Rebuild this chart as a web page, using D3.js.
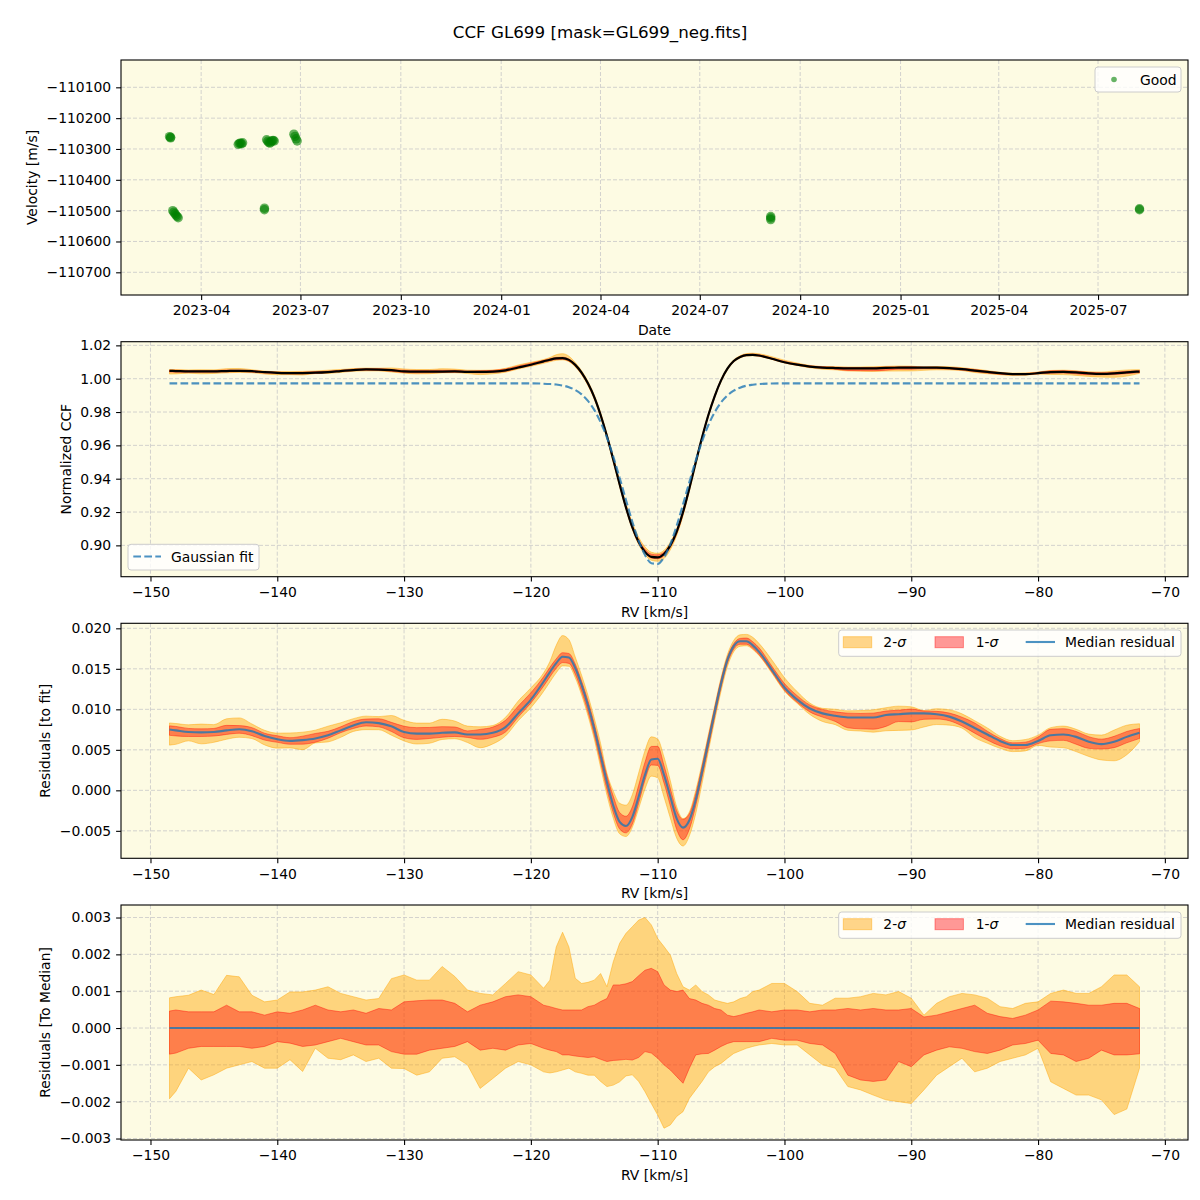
<!DOCTYPE html>
<html>
<head>
<meta charset="utf-8">
<script src="https://cdn.jsdelivr.net/npm/d3@7"></script>
<style>
  body { margin: 0; background: #fff; }
  svg { font-family: "DejaVu Sans", sans-serif; }
</style>
</head>
<body>
<svg id="chart" width="1200" height="1200"></svg>
<script>
// --- panel 1: velocity per observation ---
const obsDates = [
  "2023-03-03", "2023-03-04", "2023-03-04",
  "2023-03-06", "2023-03-07", "2023-03-08", "2023-03-09", "2023-03-10", "2023-03-11",
  "2023-05-05", "2023-05-06", "2023-05-07", "2023-05-08", "2023-05-09",
  "2023-05-29", "2023-05-29",
  "2023-05-31", "2023-06-01", "2023-06-02", "2023-06-03", "2023-06-04", "2023-06-05", "2023-06-06", "2023-06-07",
  "2023-06-25", "2023-06-26", "2023-06-27", "2023-06-28",
  "2024-09-04", "2024-09-04", "2024-09-04",
  "2025-08-08", "2025-08-08"
];
const obsVel = [
  -110260, -110264, -110262,
  -110500, -110505, -110510, -110515, -110519, -110523,
  -110285, -110282, -110281, -110283, -110280,
  -110492, -110497,
  -110270, -110275, -110279, -110281, -110277, -110273, -110272, -110274,
  -110252, -110259, -110267, -110274,
  -110519, -110524, -110529,
  -110494, -110497
];

// --- panels 2-4: CCF on an RV grid ---
const rv = [-148.5, -148, -147, -146, -145, -144, -143, -142, -141, -140,
  -139, -138, -137, -136, -135, -134, -133, -132, -131, -130,
  -129, -128, -127, -126, -125, -124, -123, -122, -121, -120,
  -119, -118.5, -118, -117.5, -117, -116.5, -116, -115.5, -115, -114.5,
  -114, -113.5, -113, -112.5, -112, -111.5, -111, -110.5, -110, -109.5,
  -109, -108.5, -108, -107.5, -107, -106.5, -106, -105.5, -105, -104.5,
  -104, -103.5, -103, -102.5, -102, -101, -100, -99, -98, -97,
  -96, -95, -94, -93, -92, -91, -90, -89, -88, -87,
  -86, -85, -84, -83, -82, -81, -80, -79, -78, -77,
  -76, -75, -74, -73, -72];

const gaussFit = [0.9972, 0.9972, 0.9972, 0.9972, 0.9972, 0.9972, 0.9972, 0.9972, 0.9972, 0.9972,
  0.9972, 0.9972, 0.9972, 0.9972, 0.9972, 0.9972, 0.9972, 0.9972, 0.9972, 0.9972,
  0.9972, 0.9972, 0.9972, 0.9972, 0.9972, 0.9972, 0.9972, 0.9972, 0.9972, 0.9972,
  0.9970, 0.9968, 0.9965, 0.9959, 0.9949, 0.9932, 0.9906, 0.9867, 0.9813, 0.9739,
  0.9646, 0.9533, 0.9406, 0.9272, 0.9142, 0.9028, 0.8942, 0.8893, 0.8889, 0.8929,
  0.9008, 0.9118, 0.9246, 0.9380, 0.9509, 0.9624, 0.9722, 0.9799, 0.9858, 0.9899,
  0.9928, 0.9946, 0.9958, 0.9964, 0.9968, 0.9971, 0.9972, 0.9972, 0.9972, 0.9972,
  0.9972, 0.9972, 0.9972, 0.9972, 0.9972, 0.9972, 0.9972, 0.9972, 0.9972, 0.9972,
  0.9972, 0.9972, 0.9972, 0.9972, 0.9972, 0.9972, 0.9972, 0.9972, 0.9972, 0.9972,
  0.9972, 0.9972, 0.9972, 0.9972, 0.9972];

// median residual to the gaussian fit
const resMedian = [0.0075, 0.0074, 0.0072, 0.00715, 0.0072, 0.0074, 0.00755, 0.0073, 0.0067, 0.0063,
  0.0061, 0.0062, 0.0064, 0.0068, 0.0074, 0.0080, 0.0084, 0.0083, 0.0079, 0.0072,
  0.0070, 0.0070, 0.0071, 0.00715, 0.0069, 0.0069, 0.0071, 0.0078, 0.0095, 0.0112,
  0.0134, 0.0146, 0.0157, 0.0165, 0.0164, 0.0151, 0.0130, 0.0105, 0.0076, 0.0043,
  0.0010, -0.0019, -0.0039, -0.0044, -0.0033, -0.0008, 0.0019, 0.0038, 0.0039, 0.0019,
  -0.0008, -0.0035, -0.0046, -0.0037, -0.0012, 0.0023, 0.0060, 0.0097, 0.0132, 0.0161,
  0.0178, 0.0184, 0.0184, 0.0179, 0.0171, 0.0149, 0.0127, 0.0112, 0.0101, 0.0095,
  0.0092, 0.0090, 0.0090, 0.0090, 0.0093, 0.0094, 0.0095, 0.0095, 0.0094, 0.0091,
  0.0085, 0.0077, 0.0069, 0.0061, 0.0056, 0.0056, 0.0061, 0.0068, 0.0069, 0.0066,
  0.0060, 0.0057, 0.0060, 0.0066, 0.0071];

// band edges relative to the median
const sigma2Hi = [0.00082, 0.00085, 0.00089, 0.00103, 0.00091, 0.00143, 0.00139, 0.00089, 0.00071, 0.00076,
  0.00098, 0.00098, 0.00103, 0.00112, 0.00094, 0.00085, 0.00076, 0.00080, 0.00134, 0.00144,
  0.00130, 0.00130, 0.00167, 0.00140, 0.00103, 0.00094, 0.00090, 0.00121, 0.00153, 0.00144,
  0.00108, 0.00130, 0.00220, 0.00260, 0.00220, 0.00135, 0.00121, 0.00124, 0.00130, 0.00148,
  0.00112, 0.00180, 0.00230, 0.00257, 0.00275, 0.00293, 0.00300, 0.00280, 0.00243, 0.00221,
  0.00198, 0.00148, 0.00112, 0.00103, 0.00117, 0.00099, 0.00090, 0.00076, 0.00071, 0.00067,
  0.00071, 0.00080, 0.00085, 0.00099, 0.00103, 0.00121, 0.00121, 0.00099, 0.00067, 0.00062,
  0.00081, 0.00081, 0.00085, 0.00094, 0.00090, 0.00099, 0.00081, 0.00035, 0.00067, 0.00085,
  0.00094, 0.00090, 0.00081, 0.00058, 0.00053, 0.00067, 0.00071, 0.00094, 0.00103, 0.00094,
  0.00094, 0.00112, 0.00144, 0.00144, 0.00112];
const sigma1Hi = [0.00046, 0.00049, 0.00044, 0.00044, 0.00044, 0.00062, 0.00044, 0.00044, 0.00035, 0.00044,
  0.00040, 0.00049, 0.00062, 0.00049, 0.00044, 0.00049, 0.00040, 0.00053, 0.00049, 0.00071,
  0.00074, 0.00076, 0.00076, 0.00067, 0.00044, 0.00062, 0.00071, 0.00085, 0.00090, 0.00085,
  0.00062, 0.00058, 0.00053, 0.00049, 0.00049, 0.00049, 0.00049, 0.00058, 0.00062, 0.00072,
  0.00080, 0.00117, 0.00117, 0.00120, 0.00126, 0.00142, 0.00157, 0.00162, 0.00153, 0.00117,
  0.00103, 0.00099, 0.00103, 0.00080, 0.00076, 0.00067, 0.00062, 0.00053, 0.00049, 0.00035,
  0.00031, 0.00035, 0.00040, 0.00044, 0.00049, 0.00044, 0.00049, 0.00049, 0.00044, 0.00049,
  0.00049, 0.00053, 0.00049, 0.00053, 0.00049, 0.00049, 0.00053, 0.00030, 0.00035, 0.00044,
  0.00053, 0.00062, 0.00040, 0.00031, 0.00026, 0.00035, 0.00049, 0.00073, 0.00071, 0.00067,
  0.00062, 0.00062, 0.00067, 0.00067, 0.00053];
const sigma1Lo = [-0.00071, -0.00068, -0.00055, -0.00050, -0.00050, -0.00050, -0.00050, -0.00055, -0.00050, -0.00037,
  -0.00041, -0.00050, -0.00046, -0.00037, -0.00028, -0.00037, -0.00046, -0.00046, -0.00064, -0.00071,
  -0.00071, -0.00060, -0.00055, -0.00050, -0.00037, -0.00060, -0.00055, -0.00060, -0.00046, -0.00042,
  -0.00055, -0.00060, -0.00064, -0.00073, -0.00073, -0.00076, -0.00078, -0.00080, -0.00078, -0.00085,
  -0.00091, -0.00088, -0.00087, -0.00085, -0.00087, -0.00080, -0.00064, -0.00068, -0.00082, -0.00100,
  -0.00114, -0.00132, -0.00150, -0.00109, -0.00073, -0.00070, -0.00069, -0.00060, -0.00050, -0.00042,
  -0.00037, -0.00037, -0.00037, -0.00037, -0.00037, -0.00028, -0.00033, -0.00033, -0.00042, -0.00046,
  -0.00069, -0.00128, -0.00141, -0.00145, -0.00141, -0.00091, -0.00105, -0.00073, -0.00060, -0.00051,
  -0.00055, -0.00064, -0.00069, -0.00060, -0.00046, -0.00042, -0.00033, -0.00069, -0.00073, -0.00091,
  -0.00082, -0.00060, -0.00073, -0.00073, -0.00070];
const sigma2Lo = [-0.00192, -0.00172, -0.00109, -0.00141, -0.00127, -0.00109, -0.00100, -0.00091, -0.00109, -0.00109,
  -0.00086, -0.00118, -0.00055, -0.00082, -0.00086, -0.00073, -0.00091, -0.00082, -0.00109, -0.00110,
  -0.00128, -0.00119, -0.00082, -0.00078, -0.00100, -0.00164, -0.00137, -0.00109, -0.00091, -0.00100,
  -0.00119, -0.00122, -0.00119, -0.00114, -0.00109, -0.00119, -0.00123, -0.00128, -0.00128, -0.00145,
  -0.00159, -0.00155, -0.00146, -0.00130, -0.00127, -0.00145, -0.00173, -0.00205, -0.00236, -0.00272,
  -0.00263, -0.00240, -0.00227, -0.00191, -0.00168, -0.00145, -0.00119, -0.00105, -0.00096, -0.00082,
  -0.00069, -0.00062, -0.00055, -0.00050, -0.00046, -0.00042, -0.00046, -0.00046, -0.00073, -0.00100,
  -0.00109, -0.00159, -0.00168, -0.00182, -0.00195, -0.00200, -0.00205, -0.00168, -0.00128, -0.00105,
  -0.00082, -0.00119, -0.00109, -0.00091, -0.00082, -0.00073, -0.00055, -0.00146, -0.00164, -0.00182,
  -0.00182, -0.00195, -0.00235, -0.00220, -0.00109];

const dateTicks = ["2023-04-01", "2023-07-01", "2023-10-01", "2024-01-01", "2024-04-01",
  "2024-07-01", "2024-10-01", "2025-01-01", "2025-04-01", "2025-07-01"];
const velTicks = [-110700, -110600, -110500, -110400, -110300, -110200, -110100];
const rvTicks = [-150, -140, -130, -120, -110, -100, -90, -80, -70];
const ccfTicks = [0.90, 0.92, 0.94, 0.96, 0.98, 1.00, 1.02];
const resTicks = [-0.005, 0.000, 0.005, 0.010, 0.015, 0.020];
const medTicks = [-0.003, -0.002, -0.001, 0.000, 0.001, 0.002, 0.003];

[gaussFit, resMedian, sigma2Hi, sigma1Hi, sigma1Lo, sigma2Lo].forEach(a => {
  if (a.length !== rv.length) throw new Error("length mismatch " + a.length);
});

const svg = d3.select("#chart");
const L = 121, R = 1188, PH = 235;
const tops = [60, 341.7, 623.3, 905];
const FS = "13.9px";
const bgCol = "#fdfbe3";
const c0 = "#1f77b4";

svg.append("text")
  .attr("x", 600).attr("y", 38)
  .attr("text-anchor", "middle")
  .attr("font-size", "16.7px")
  .text("CCF GL699 [mask=GL699_neg.fits]");

function panel(i, x, y, xt, yt, xfmt, yfmt, xlabel, ylabel, ylabelX) {
  const top = tops[i], bot = top + PH;
  const g = svg.append("g");
  g.append("rect").attr("x", L).attr("y", top)
    .attr("width", R - L).attr("height", PH).attr("fill", bgCol);
  const grid = g.append("g")
    .attr("stroke", "#c8c8c8").attr("stroke-width", 0.8)
    .attr("stroke-dasharray", "4,2");
  grid.selectAll(".gx").data(xt).enter().append("line")
    .attr("x1", d => x(d)).attr("x2", d => x(d))
    .attr("y1", top).attr("y2", bot);
  grid.selectAll(".gy").data(yt).enter().append("line")
    .attr("x1", L).attr("x2", R)
    .attr("y1", d => y(d)).attr("y2", d => y(d));

  const plot = g.append("g");

  const ax = g.append("g").attr("transform", `translate(0,${bot})`)
    .call(d3.axisBottom(x).tickValues(xt).tickFormat(xfmt).tickSize(4.9).tickPadding(5.5));
  const ay = g.append("g").attr("transform", `translate(${L},0)`)
    .call(d3.axisLeft(y).tickValues(yt).tickFormat(yfmt).tickSize(4.9).tickPadding(4.9));
  [ax, ay].forEach(a => {
    a.select(".domain").remove();
    a.attr("font-size", FS).attr("font-family", "DejaVu Sans, sans-serif");
    a.selectAll("line").attr("stroke-width", 1.1);
  });

  g.append("text").attr("x", (L + R) / 2).attr("y", bot + 40)
    .attr("text-anchor", "middle").attr("font-size", FS).text(xlabel);
  g.append("text")
    .attr("transform", `translate(${ylabelX + 5},${(top + bot) / 2}) rotate(-90)`)
    .attr("text-anchor", "middle").attr("font-size", FS).text(ylabel);

  return { g, plot, top, bot, spine: () =>
    g.append("rect").attr("x", L).attr("y", top).attr("width", R - L).attr("height", PH)
      .attr("fill", "none").attr("stroke", "#000").attr("stroke-width", 1.1) };
}

function legendBox(g, x0, y0, w, h) {
  g.append("rect").attr("x", x0).attr("y", y0).attr("width", w).attr("height", h)
    .attr("rx", 3).attr("fill", "#fff").attr("fill-opacity", 0.8)
    .attr("stroke", "#cccccc").attr("stroke-width", 1);
}

// ---------- panel 1 ----------
const parse = d3.utcParse("%Y-%m-%d");
const times = obsDates.map(parse);
const tExt = d3.extent(times);
const tPad = (tExt[1] - tExt[0]) * 0.05;
const x1 = d3.scaleUtc()
  .domain([new Date(+tExt[0] - tPad), new Date(+tExt[1] + tPad)])
  .range([L, R]);
const y1 = d3.scaleLinear().domain([-110773.6, -110011.4]).range([tops[0] + PH, tops[0]]);
const p1 = panel(0, x1, y1, dateTicks.map(parse), velTicks,
  d3.utcFormat("%Y-%m"), d3.format("d"), "Date", "Velocity [m/s]", 32);

p1.plot.selectAll("circle").data(times).enter().append("circle")
  .attr("cx", d => x1(d))
  .attr("cy", (d, i) => y1(obsVel[i]))
  .attr("r", 4.7)
  .attr("fill", "green").attr("fill-opacity", 0.6);
p1.spine();
legendBox(p1.g, 1095, 67, 86, 25);
p1.g.append("circle").attr("cx", 1114).attr("cy", 79.5).attr("r", 2.8)
  .attr("fill", "green").attr("fill-opacity", 0.6);
p1.g.append("text").attr("x", 1140).attr("y", 84.5).attr("font-size", FS).text("Good");

// ---------- shared RV scale ----------
const rvExt = d3.extent(rv);
const rvPad = (rvExt[1] - rvExt[0]) * 0.05;
const xr = d3.scaleLinear().domain([rvExt[0] - rvPad, rvExt[1] + rvPad]).range([L, R]);
const rows = rv.map((v, i) => ({
  rv: v, fit: gaussFit[i], res: resMedian[i],
  u2: sigma2Hi[i], u1: sigma1Hi[i], l1: sigma1Lo[i], l2: sigma2Lo[i]
}));

const col2 = "orange", col1 = "red";
function bands(plot, y, base, curve) {
  const a2 = d3.area().x(d => xr(d.rv)).y0(d => y(base(d) + d.l2)).y1(d => y(base(d) + d.u2)).curve(curve);
  const a1 = d3.area().x(d => xr(d.rv)).y0(d => y(base(d) + d.l1)).y1(d => y(base(d) + d.u1)).curve(curve);
  plot.append("path").datum(rows).attr("d", a2)
    .attr("fill", col2).attr("fill-opacity", 0.45)
    .attr("stroke", col2).attr("stroke-opacity", 0.45).attr("stroke-width", 1);
  plot.append("path").datum(rows).attr("d", a1)
    .attr("fill", col1).attr("fill-opacity", 0.4)
    .attr("stroke", col1).attr("stroke-opacity", 0.4).attr("stroke-width", 1);
}

// ---------- panel 2 ----------
const y2 = d3.scaleLinear().domain([0.8812, 1.0222]).range([tops[1] + PH, tops[1]]);
const p2 = panel(1, xr, y2, rvTicks, ccfTicks, d3.format("d"), d3.format(".2f"),
  "RV [km/s]", "Normalized CCF", 66);
bands(p2.plot, y2, d => d.fit + d.res, d3.curveMonotoneX);
p2.plot.append("path").datum(rows)
  .attr("d", d3.line().x(d => xr(d.rv)).y(d => y2(d.fit + d.res)).curve(d3.curveMonotoneX))
  .attr("fill", "none").attr("stroke", "#000").attr("stroke-width", 2.2);
p2.plot.append("path").datum(rows)
  .attr("d", d3.line().x(d => xr(d.rv)).y(d => y2(d.fit)).curve(d3.curveMonotoneX))
  .attr("fill", "none").attr("stroke", c0).attr("stroke-opacity", 0.8)
  .attr("stroke-width", 2.1).attr("stroke-dasharray", "7.7,3.3");
p2.spine();
legendBox(p2.g, 128, 544.3, 131, 25.7);
p2.g.append("line").attr("x1", 133.3).attr("x2", 161).attr("y1", 556.5).attr("y2", 556.5)
  .attr("stroke", c0).attr("stroke-opacity", 0.8).attr("stroke-width", 2.1)
  .attr("stroke-dasharray", "7.7,3.3");
p2.g.append("text").attr("x", 171).attr("y", 561.5).attr("font-size", FS).text("Gaussian fit");

// ---------- residual legends ----------
function residualLegend(g, y0) {
  legendBox(g, 838.7, y0, 342.3, 26.3);
  const items = [
    { x: 843.3, tx: 883.3, kind: "patch", c: col2, op: 0.45, pre: "2-" },
    { x: 935, tx: 975.7, kind: "patch", c: col1, op: 0.4, pre: "1-" },
    { x: 1025.7, tx: 1065, kind: "line" }
  ];
  items.forEach(it => {
    if (it.kind === "patch") {
      g.append("rect").attr("x", it.x).attr("y", y0 + 6.7).attr("width", 28.4).attr("height", 11)
        .attr("fill", it.c).attr("fill-opacity", it.op)
        .attr("stroke", it.c).attr("stroke-opacity", it.op);
      const t = g.append("text").attr("x", it.tx).attr("y", y0 + 16.7).attr("font-size", FS);
      t.append("tspan").text(it.pre);
      t.append("tspan").attr("font-style", "italic").text("σ");
    } else {
      g.append("line").attr("x1", it.x).attr("x2", it.x + 29.3)
        .attr("y1", y0 + 12).attr("y2", y0 + 12)
        .attr("stroke", c0).attr("stroke-opacity", 0.8).attr("stroke-width", 2.1);
      g.append("text").attr("x", it.tx).attr("y", y0 + 16.7).attr("font-size", FS).text("Median residual");
    }
  });
}

// ---------- panel 3 ----------
const y3 = d3.scaleLinear().domain([-0.00839, 0.02062]).range([tops[2] + PH, tops[2]]);
const p3 = panel(2, xr, y3, rvTicks, resTicks, d3.format("d"), d3.format(".3f"),
  "RV [km/s]", "Residuals [to fit]", 45);
bands(p3.plot, y3, d => d.res, d3.curveMonotoneX);
p3.plot.append("path").datum(rows)
  .attr("d", d3.line().x(d => xr(d.rv)).y(d => y3(d.res)).curve(d3.curveMonotoneX))
  .attr("fill", "none").attr("stroke", c0).attr("stroke-opacity", 0.8).attr("stroke-width", 2.1);
p3.spine();
residualLegend(p3.g, 630);

// ---------- panel 4 ----------
const y4 = d3.scaleLinear().domain([-0.00304, 0.00334]).range([tops[3] + PH, tops[3]]);
const p4 = panel(3, xr, y4, rvTicks, medTicks, d3.format("d"), d3.format(".3f"),
  "RV [km/s]", "Residuals [To Median]", 45);
bands(p4.plot, y4, d => 0, d3.curveLinear);
p4.plot.append("path").datum(rows)
  .attr("d", d3.line().x(d => xr(d.rv)).y(() => y4(0)))
  .attr("fill", "none").attr("stroke", c0).attr("stroke-opacity", 0.8).attr("stroke-width", 2.1);
p4.spine();
residualLegend(p4.g, 912);
</script>
</body>
</html>
